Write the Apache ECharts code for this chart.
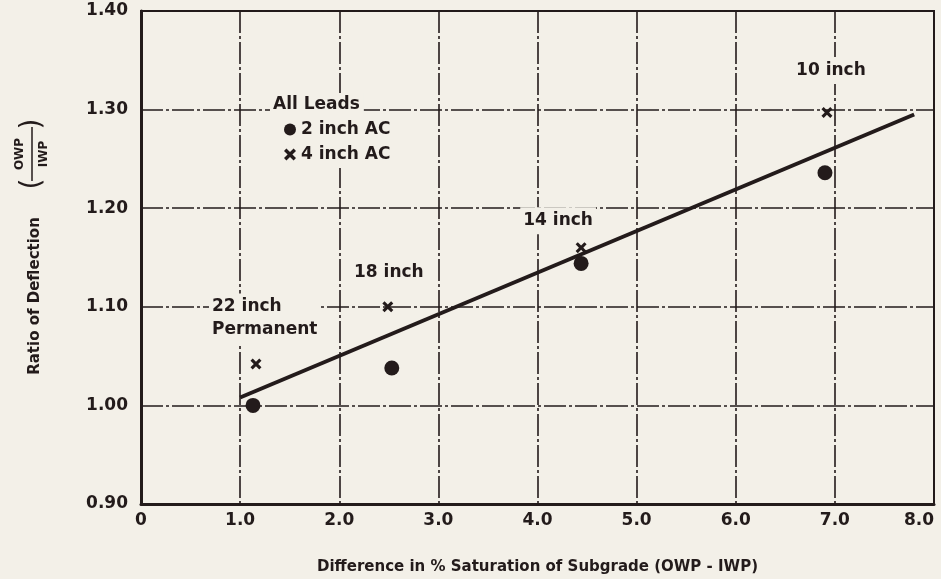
<!DOCTYPE html>
<html>
<head>
<meta charset="utf-8">
<script src="https://cdn.jsdelivr.net/npm/echarts@6/dist/echarts.min.js"></script>
<style>
  html, body { margin: 0; padding: 0; background: #f3f0e8; }
  #chart { width: 941px; height: 579px; }
</style>
</head>
<body>
<div id="chart"></div>
<script>
// Saturation difference (OWP - IWP, %) and deflection ratio for each lead
const acSeries = ['2 inch AC', '4 inch AC'];
const leadNames = ['22 inch\nPermanent', '18 inch', '14 inch', '10 inch'];
const thinX = [1.13, 2.53, 4.44, 6.90];
const thinY = [1.000, 1.038, 1.144, 1.236];
const thickX = [1.16, 2.49, 4.44, 6.92];
const thickY = [1.042, 1.100, 1.160, 1.297];
// fitted trend line end points
const fitX = [1.0, 7.8];
const fitY = [1.008, 1.295];
// axis ranges and ticks
const xTicks = [0, 1, 2, 3, 4, 5, 6, 7, 8];
const yTicks = [0.90, 1.00, 1.10, 1.20, 1.30, 1.40];

const ink = '#231b1b';
const paper = '#f3f0e8';
const font = 'DejaVu Sans';
const crossPath = 'path://M0,2L2,0L5,3L8,0L10,2L7,5L10,8L8,10L5,7L2,10L0,8L3,5Z';

// label placement for each lead annotation (text offset from its marker)
const leadLabelLayout = [
  { align: 'left', offset: [-47, -10] },
  { align: 'center', offset: [1, -10] },
  { align: 'center', offset: [-23, -3] },
  { align: 'center', offset: [4, -18] }
];

const gridLine = { color: ink, width: 1.6, type: [22, 3, 3, 3] };

const chart = echarts.init(document.getElementById('chart'), null, { renderer: 'canvas' });

chart.setOption({
  backgroundColor: paper,
  animation: false,
  grid: {
    left: 141, right: 7, top: 11, bottom: 75,
    outerBoundsMode: 'none',
    containLabel: false,
    show: true, borderColor: ink, borderWidth: 2, backgroundColor: 'transparent'
  },
  xAxis: {
    type: 'value',
    min: xTicks[0], max: xTicks[xTicks.length - 1], interval: 1,
    axisLine: { show: true, onZero: false, lineStyle: { color: ink, width: 3 } },
    axisTick: { show: false },
    splitLine: { show: true, lineStyle: gridLine },
    axisLabel: {
      margin: 8, color: ink, fontFamily: font, fontWeight: 'bold', fontSize: 17,
      alignMaxLabel: 'right',
      formatter: v => (v === 0 ? '0' : v.toFixed(1))
    },
    name: 'Difference in % Saturation of Subgrade (OWP - IWP)',
    nameLocation: 'middle', nameGap: 56,
    nameTextStyle: { color: ink, fontFamily: font, fontWeight: 'bold', fontSize: 15 }
  },
  yAxis: {
    type: 'value',
    min: yTicks[0], max: yTicks[yTicks.length - 1], interval: 0.1,
    axisLine: { show: true, onZero: false, lineStyle: { color: ink, width: 3 } },
    axisTick: { show: false },
    splitLine: { show: true, lineStyle: gridLine },
    axisLabel: {
      margin: 13, color: ink, fontFamily: font, fontWeight: 'bold', fontSize: 17,
      formatter: v => v.toFixed(2)
    }
  },
  legend: {
    data: [
      { name: acSeries[0], icon: 'circle' },
      { name: acSeries[1], icon: crossPath }
    ],
    orient: 'vertical',
    left: 279, top: 116,
    itemWidth: 12, itemHeight: 12, itemGap: 8,
    padding: [5, 6, 5, 5],
    backgroundColor: paper,
    textStyle: { color: ink, fontFamily: font, fontWeight: 'bold', fontSize: 17 },
    selectedMode: false
  },
  graphic: [
    {
      type: 'text', left: 270, top: 93, z: 20,
      style: {
        text: 'All Leads', fill: ink, font: 'bold 17px "DejaVu Sans"',
        backgroundColor: paper, padding: [3, 4, 3, 3]
      }
    },
    {
      type: 'text', x: 35, y: 296, rotation: Math.PI / 2, z: 20,
      style: {
        text: 'Ratio of Deflection', fill: ink, font: 'bold 15px "DejaVu Sans"',
        align: 'center', verticalAlign: 'middle'
      }
    },
    {
      type: 'group', x: 32, y: 154, rotation: Math.PI / 2, z: 20,
      children: [
        { type: 'text', x: 0, y: -6, style: { text: 'OWP', fill: ink, font: 'bold 12px "DejaVu Sans"', align: 'center', verticalAlign: 'bottom' } },
        { type: 'line', shape: { x1: -27, y1: 0, x2: 27, y2: 0 }, style: { stroke: ink, lineWidth: 1.5 } },
        { type: 'text', x: 0, y: 6, style: { text: 'IWP', fill: ink, font: 'bold 12px "DejaVu Sans"', align: 'center', verticalAlign: 'top' } },
        { type: 'text', x: -30, y: 1, style: { text: '(', fill: ink, font: '28px "DejaVu Sans"', align: 'center', verticalAlign: 'middle' } },
        { type: 'text', x: 30, y: 1, style: { text: ')', fill: ink, font: '28px "DejaVu Sans"', align: 'center', verticalAlign: 'middle' } }
      ]
    }
  ],
  series: [
    {
      name: 'fit',
      type: 'line',
      data: fitX.map((x, i) => [x, fitY[i]]),
      symbol: 'none',
      lineStyle: { color: ink, width: 4 },
      z: 3,
      silent: true
    },
    {
      name: acSeries[0],
      type: 'scatter',
      data: thinX.map((x, i) => [x, thinY[i]]),
      symbol: 'circle',
      symbolSize: 15,
      itemStyle: { color: ink, opacity: 1 },
      z: 4
    },
    {
      name: acSeries[1],
      type: 'scatter',
      data: thickX.map((x, i) => ({
        value: [x, thickY[i]],
        name: leadNames[i],
        label: {
          show: true,
          position: 'top',
          align: leadLabelLayout[i].align,
          offset: leadLabelLayout[i].offset
        }
      })),
      symbol: crossPath,
      symbolSize: 11,
      itemStyle: { color: ink, opacity: 1 },
      label: {
        formatter: p => p.name,
        color: ink, fontFamily: font, fontWeight: 'bold', fontSize: 17,
        lineHeight: 23, backgroundColor: paper, padding: [2, 3]
      },
      z: 5
    }
  ]
});
</script>
</body>
</html>
